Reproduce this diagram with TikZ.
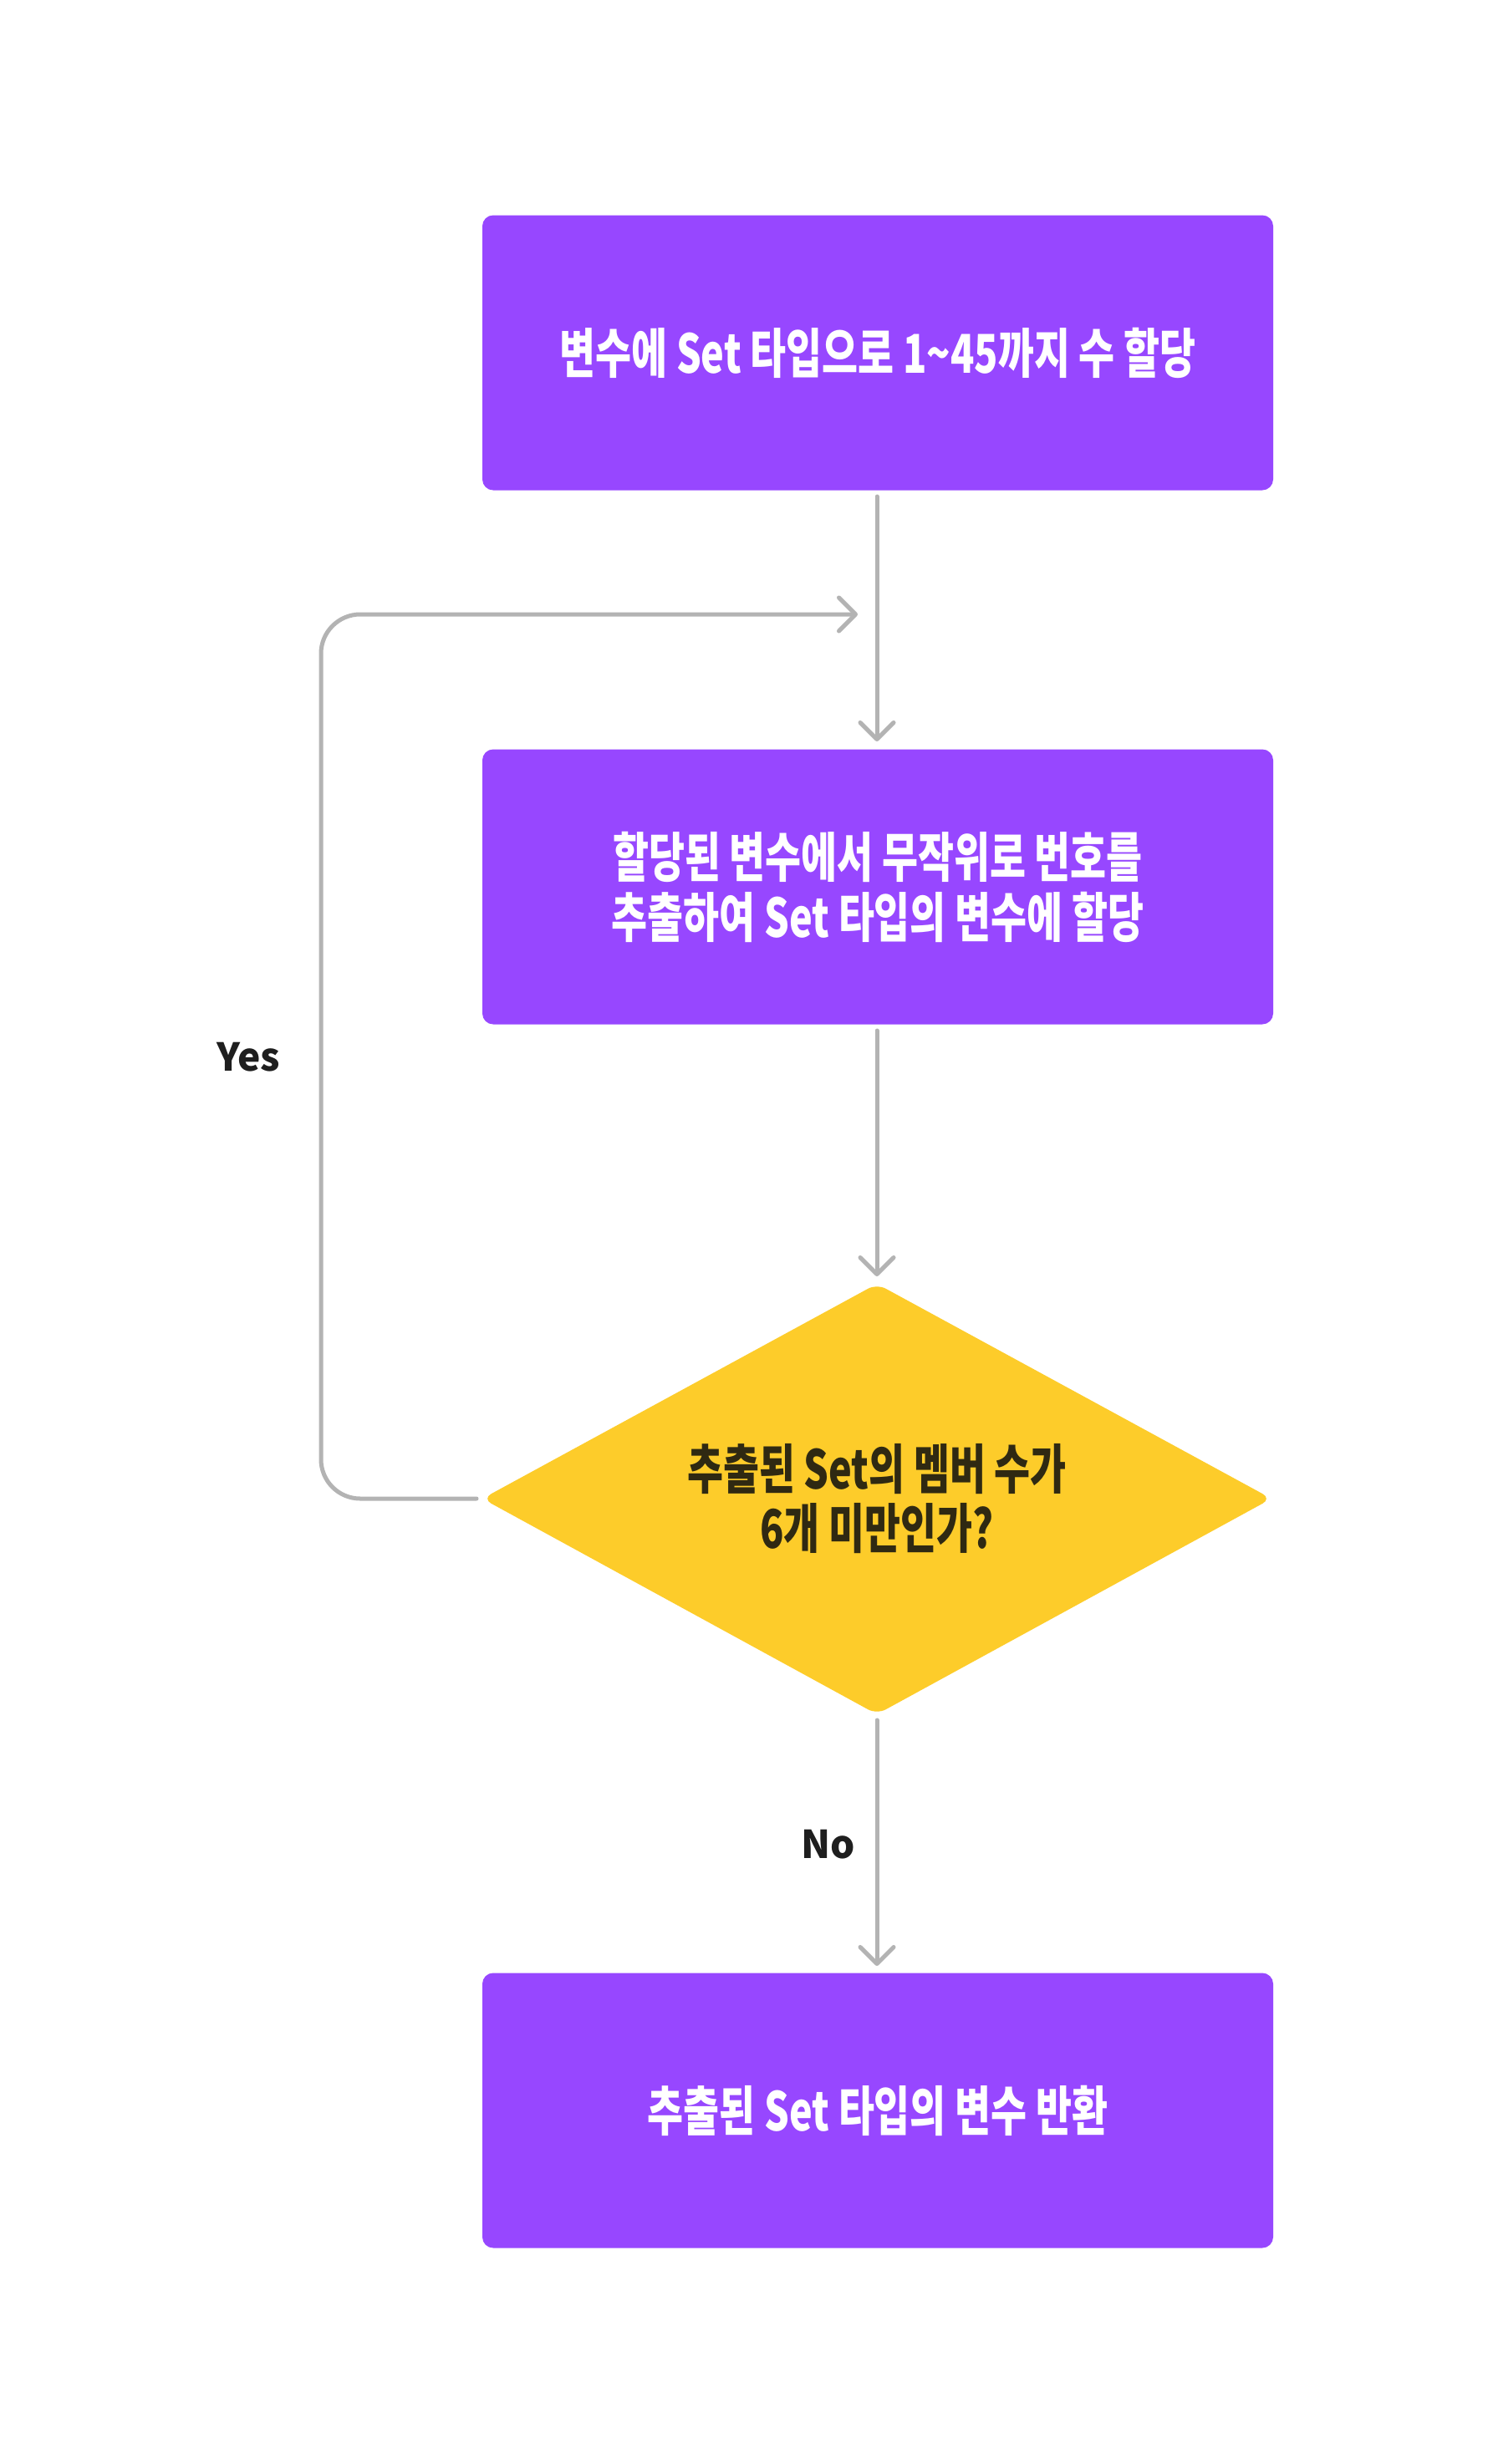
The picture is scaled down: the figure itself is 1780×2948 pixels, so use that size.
\documentclass[tikz,border=0pt]{standalone}
\usepackage{fontspec}
\usetikzlibrary{arrows.meta}
\newfontfamily\kr[FakeStretch=0.73]{Noto Sans CJK KR}
\newfontfamily\krlab{Noto Sans CJK KR}
\definecolor{fpurple}{HTML}{9747FF}
\definecolor{fyellow}{HTML}{FDCC2A}
\definecolor{fgray}{HTML}{B3B3B3}
\definecolor{fdark}{HTML}{2F2912}
\definecolor{flabel}{HTML}{1E1E1E}
\begin{document}
\begin{tikzpicture}[x=1pt,y=-1pt,
  procbox/.style={fill=fpurple, rounded corners=13pt, minimum width=946pt, minimum height=329pt, inner sep=0pt,
     text=white, align=center, font=\kr\bfseries\fontsize{64pt}{72pt}\selectfont},
  decbox/.style={fill=fyellow, inner sep=0pt, text=fdark, align=center,
     font=\kr\bfseries\fontsize{64pt}{71pt}\selectfont},
  lab/.style={text=flabel, font=\krlab\bfseries\fontsize{46pt}{50pt}\selectfont},
  conn/.style={draw=fgray, line width=5pt, line cap=round, line join=round,
     -{Straight Barb[length=20pt,width=40pt,round]}},
  loopline/.style={draw=fgray, line width=5pt, line cap=round, line join=round, rounded corners=47pt,
     -{Straight Barb[length=20pt,width=40pt,round]}}]
\useasboundingbox (0,0) rectangle (1780,2948);
\fill[white] (0,0) rectangle (1780,2948);

\node[procbox] (b1) at (1050,422) {변수에 Set 타입으로 1\textasciitilde45까지 수 할당};
\node[procbox] (b2) at (1050,1061) {할당된 변수에서 무작위로 번호를\\추출하여 Set 타입의 변수에 할당};
\coordinate (dc) at (1049,1793);
\fill[fyellow, rounded corners=12pt] (1049,1536) -- (1521,1793) -- (1049,2051) -- (577,1793) -- cycle;
\node[decbox] (d) at (dc) {추출된 Set의 멤버 수가\\6개 미만인가?};
\coordinate (dl) at (570,1793);
\coordinate (dt) at (1049,1536);
\coordinate (db) at (1049,2051);
\node[procbox] (b4) at (1050,2525) {추출된 Set 타입의 변수 반환};

\coordinate (a1s) at (1049,594);
\coordinate (a1e) at (1049,887);
\draw[conn] (a1s) -- (a1e);
\coordinate (a2s) at (1049,1233);
\coordinate (a2e) at (1049,1527);
\draw[conn] (a2s) -- (a2e);
\coordinate (a3s) at (1049,2058);
\coordinate (a3e) at (1049,2352);
\draw[conn] (a3s) -- (a3e);
\coordinate (lc1) at (384,1793);
\coordinate (lc2) at (384,735);
\coordinate (le) at (1026,735);
\draw[loopline] (dl) -- (lc1) -- (lc2) -- (le);

\node[lab] (yes) at (297,1265) {Yes};
\node[lab] (no) at (991,2207) {No};
\end{tikzpicture}
\end{document}
